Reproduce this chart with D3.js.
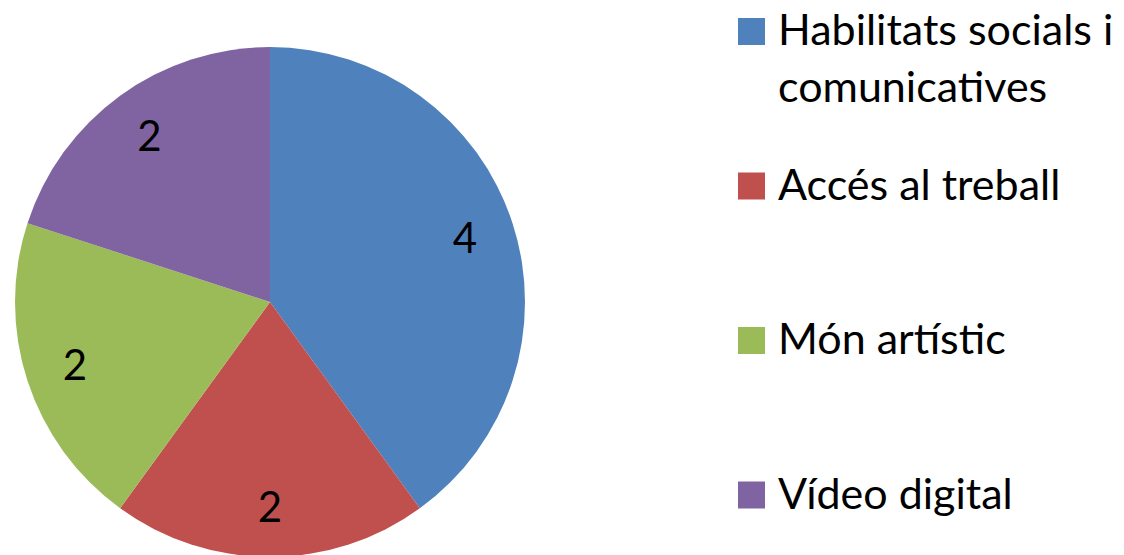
<!DOCTYPE html>
<html>
<head>
<meta charset="utf-8">
<script src="https://cdn.jsdelivr.net/npm/d3@7"></script>
<style>
  body { margin: 0; background: #fff; }
  svg { display: block; font-family: Lato, "Open Sans", sans-serif; }
</style>
</head>
<body>
<div id="chart"></div>
<script>
// data
const categories = ["Habilitats socials i comunicatives", "Accés al treball", "Món artístic", "Vídeo digital"];
const values = [4, 2, 2, 2];
const colors = ["#4F81BD", "#C0504D", "#9BBB59", "#8064A2"];

const width = 1124, height = 555;
const cx = 270, cy = 302, radius = 255;

const svg = d3.select("#chart").append("svg")
    .attr("width", width)
    .attr("height", height);

const color = d3.scaleOrdinal().domain(categories).range(colors);

const pie = d3.pie()
    .sort(null)
    .value(d => d.value);

const slices = pie(categories.map((c, i) => ({ name: c, value: values[i] })));

const arc = d3.arc().innerRadius(0).outerRadius(radius);
const labelArc = d3.arc().innerRadius(205).outerRadius(205);

const g = svg.append("g").attr("transform", `translate(${cx},${cy})`);

g.selectAll("path")
    .data(slices)
    .enter()
    .append("path")
    .attr("d", arc)
    .attr("fill", d => color(d.data.name));

g.selectAll(".label")
    .data(slices)
    .enter()
    .append("text")
    .attr("class", "label")
    .attr("transform", d => `translate(${labelArc.centroid(d)})`)
    .attr("text-anchor", "middle")
    .attr("dy", "0.35em")
    .attr("font-size", 42)
    .attr("fill", "#000")
    .text(d => d.data.value);

// legend
const legendY = d3.scalePoint().domain(categories).range([31.5, 495]);
const box = 27, textX = 778, maxW = 340;

const items = svg.selectAll(".legend")
    .data(categories)
    .enter()
    .append("g")
    .attr("class", "legend")
    .attr("transform", d => `translate(0,${legendY(d)})`);

items.append("rect")
    .attr("x", 738)
    .attr("y", -box / 2)
    .attr("width", box)
    .attr("height", box)
    .attr("fill", d => color(d));

items.append("text")
    .attr("x", textX)
    .attr("y", box / 2)
    .attr("font-size", 43)
    .attr("fill", "#000")
    .each(function(d) {
        // simple word wrap
        const t = d3.select(this);
        const words = d.split(" ");
        let line = [];
        let tspan = t.append("tspan").attr("x", textX);
        let lineNo = 0;
        words.forEach(w => {
            line.push(w);
            tspan.text(line.join(" "));
            if (tspan.node().getComputedTextLength() > maxW && line.length > 1) {
                line.pop();
                tspan.text(line.join(" "));
                line = [w];
                lineNo++;
                tspan = t.append("tspan").attr("x", textX).attr("dy", 57).text(w);
            }
        });
    });
</script>
</body>
</html>
